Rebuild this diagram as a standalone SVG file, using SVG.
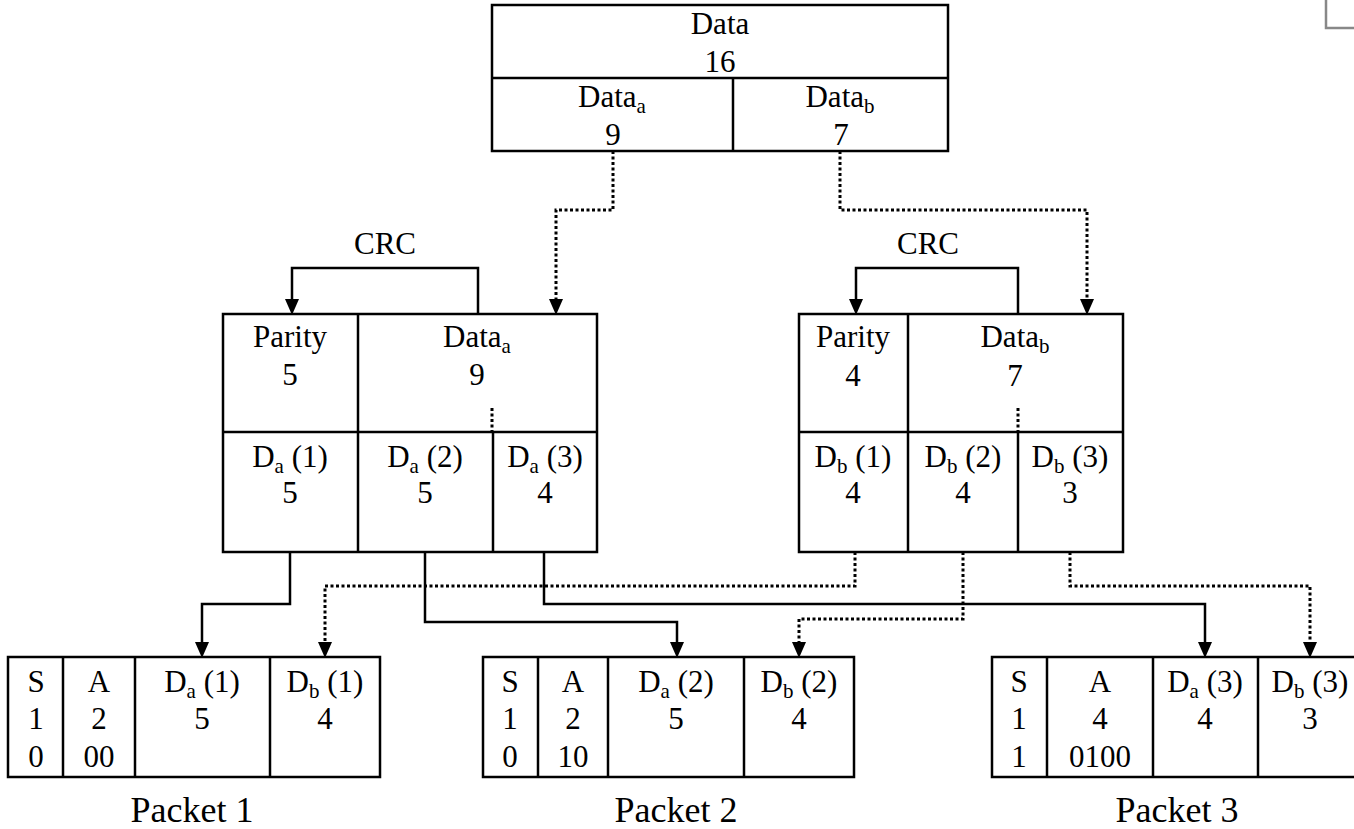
<svg xmlns="http://www.w3.org/2000/svg" width="1354" height="829" viewBox="0 0 1354 829">
  <style>
    .box { fill: #fff; stroke: #000; stroke-width: 2.5; }
    .div { stroke: #000; stroke-width: 2.5; fill: none; }
    .solid { stroke: #000; stroke-width: 2.5; fill: none; }
    .dot { stroke: #000; stroke-width: 3; fill: none; stroke-dasharray: 3 2.5; }
    text { font-family: "Liberation Serif", "Times New Roman", serif; font-size: 31px; fill: #000; text-anchor: middle; }
    .sub { font-size: 21px; }
    .label { font-size: 36px; }
    .head { fill: #000; }
  </style>
  <rect width="1354" height="829" fill="#fff"/>

  <!-- stray corner mark -->
  <path d="M1326,0 V28 H1354" fill="none" stroke="#888" stroke-width="2.5"/>

  <!-- connectors -->
  <g id="connectors">
    <path class="dot" d="M613,151 V210 H556 V305"/>
    <path class="dot" d="M840,151 V210 H1087 V305"/>
    <path class="solid" d="M478,314 V268 H292 V305"/>
    <path class="solid" d="M1018,314 V268 H856 V305"/>
    <path class="solid" d="M290,552 V604 H202 V648"/>
    <path class="solid" d="M425,552 V622 H677 V648"/>
    <path class="solid" d="M544,552 V604 H1205 V648"/>
    <path class="dot" d="M855,552 V586 H325 V648"/>
    <path class="dot" d="M963,552 V619 H799 V648"/>
    <path class="dot" d="M1070,552 V586 H1310 V648"/>
  </g>

  <!-- top data block -->
  <g id="data">
    <rect class="box" x="492" y="5" width="456" height="146"/>
    <line class="div" x1="492" y1="78" x2="948" y2="78"/>
    <line class="div" x1="733" y1="78" x2="733" y2="151" stroke-width="3"/>
    <text x="720" y="34">Data</text>
    <text x="720" y="72">16</text>
    <text x="612" y="107">Data<tspan class="sub" dy="6">a</tspan></text>
    <text x="613" y="145">9</text>
    <text x="840" y="107">Data<tspan class="sub" dy="6">b</tspan></text>
    <text x="841" y="145">7</text>
  </g>

  <!-- left CRC block -->
  <g id="block-a">
    <rect class="box" x="223" y="314" width="374" height="238"/>
    <line class="div" x1="223" y1="432" x2="597" y2="432"/>
    <line class="div" x1="358" y1="314" x2="358" y2="552"/>
    <line class="div" x1="493" y1="432" x2="493" y2="552" stroke-width="3"/>
    <line class="dot" x1="492" y1="408" x2="492" y2="432"/>
    <text x="385" y="254">CRC</text>
    <text x="290" y="347">Parity</text>
    <text x="290" y="385">5</text>
    <text x="477" y="347">Data<tspan class="sub" dy="6">a</tspan></text>
    <text x="477" y="385">9</text>
    <text x="290" y="467">D<tspan class="sub" dy="6">a</tspan><tspan dy="-6"> (1)</tspan></text>
    <text x="290" y="503">5</text>
    <text x="425" y="467">D<tspan class="sub" dy="6">a</tspan><tspan dy="-6"> (2)</tspan></text>
    <text x="425" y="503">5</text>
    <text x="545" y="467">D<tspan class="sub" dy="6">a</tspan><tspan dy="-6"> (3)</tspan></text>
    <text x="545" y="503">4</text>
  </g>

  <!-- right CRC block -->
  <g id="block-b">
    <rect class="box" x="799" y="314" width="324" height="238"/>
    <line class="div" x1="799" y1="432" x2="1123" y2="432"/>
    <line class="div" x1="908" y1="314" x2="908" y2="552"/>
    <line class="div" x1="1018" y1="432" x2="1018" y2="552"/>
    <line class="dot" x1="1018" y1="408" x2="1018" y2="432"/>
    <text x="928" y="254">CRC</text>
    <text x="853" y="347">Parity</text>
    <text x="853" y="386">4</text>
    <text x="1015" y="347">Data<tspan class="sub" dy="6">b</tspan></text>
    <text x="1015" y="386">7</text>
    <text x="853" y="467">D<tspan class="sub" dy="6">b</tspan><tspan dy="-6"> (1)</tspan></text>
    <text x="853" y="503">4</text>
    <text x="963" y="467">D<tspan class="sub" dy="6">b</tspan><tspan dy="-6"> (2)</tspan></text>
    <text x="963" y="503">4</text>
    <text x="1070" y="467">D<tspan class="sub" dy="6">b</tspan><tspan dy="-6"> (3)</tspan></text>
    <text x="1070" y="503">3</text>
  </g>

  <!-- packet 1 -->
  <g id="packet-1">
    <rect class="box" x="8" y="657" width="372" height="120"/>
    <line class="div" x1="63" y1="657" x2="63" y2="777"/>
    <line class="div" x1="135" y1="657" x2="135" y2="777"/>
    <line class="div" x1="270" y1="657" x2="270" y2="777"/>
    <text x="36" y="692">S</text>
    <text x="36" y="729">1</text>
    <text x="36" y="767">0</text>
    <text x="99" y="692">A</text>
    <text x="99" y="729">2</text>
    <text x="99" y="767">00</text>
    <text x="202" y="692">D<tspan class="sub" dy="6">a</tspan><tspan dy="-6"> (1)</tspan></text>
    <text x="202" y="729">5</text>
    <text x="325" y="692">D<tspan class="sub" dy="6">b</tspan><tspan dy="-6"> (1)</tspan></text>
    <text x="325" y="729">4</text>
    <text class="label" x="192" y="822">Packet 1</text>
  </g>

  <!-- packet 2 -->
  <g id="packet-2">
    <rect class="box" x="483" y="657" width="371" height="120"/>
    <line class="div" x1="538" y1="657" x2="538" y2="777"/>
    <line class="div" x1="608" y1="657" x2="608" y2="777"/>
    <line class="div" x1="744" y1="657" x2="744" y2="777"/>
    <text x="510" y="692">S</text>
    <text x="510" y="729">1</text>
    <text x="510" y="767">0</text>
    <text x="573" y="692">A</text>
    <text x="573" y="729">2</text>
    <text x="573" y="767">10</text>
    <text x="676" y="692">D<tspan class="sub" dy="6">a</tspan><tspan dy="-6"> (2)</tspan></text>
    <text x="676" y="729">5</text>
    <text x="799" y="692">D<tspan class="sub" dy="6">b</tspan><tspan dy="-6"> (2)</tspan></text>
    <text x="799" y="729">4</text>
    <text class="label" x="676" y="822">Packet 2</text>
  </g>

  <!-- packet 3 (right border runs off the canvas) -->
  <g id="packet-3">
    <rect class="box" x="992" y="657" width="372" height="120"/>
    <line class="div" x1="1047" y1="657" x2="1047" y2="777"/>
    <line class="div" x1="1153" y1="657" x2="1153" y2="777"/>
    <line class="div" x1="1258" y1="657" x2="1258" y2="777"/>
    <text x="1019" y="692">S</text>
    <text x="1019" y="729">1</text>
    <text x="1019" y="767">1</text>
    <text x="1100" y="692">A</text>
    <text x="1100" y="729">4</text>
    <text x="1100" y="767">0100</text>
    <text x="1205" y="692">D<tspan class="sub" dy="6">a</tspan><tspan dy="-6"> (3)</tspan></text>
    <text x="1205" y="729">4</text>
    <text x="1310" y="692">D<tspan class="sub" dy="6">b</tspan><tspan dy="-6"> (3)</tspan></text>
    <text x="1310" y="729">3</text>
    <text class="label" x="1177" y="822">Packet 3</text>
  </g>

  <!-- arrowheads, drawn over the box borders -->
  <g id="arrowheads">
    <path class="head" d="M549,299 L563,299 L556,315 Z"/>
    <path class="head" d="M1080,299 L1094,299 L1087,315 Z"/>
    <path class="head" d="M285,299 L299,299 L292,315 Z"/>
    <path class="head" d="M849,299 L863,299 L856,315 Z"/>
    <path class="head" d="M195,642 L209,642 L202,658 Z"/>
    <path class="head" d="M670,642 L684,642 L677,658 Z"/>
    <path class="head" d="M1198,642 L1212,642 L1205,658 Z"/>
    <path class="head" d="M318,642 L332,642 L325,658 Z"/>
    <path class="head" d="M792,642 L806,642 L799,658 Z"/>
    <path class="head" d="M1303,642 L1317,642 L1310,658 Z"/>
  </g>
</svg>
